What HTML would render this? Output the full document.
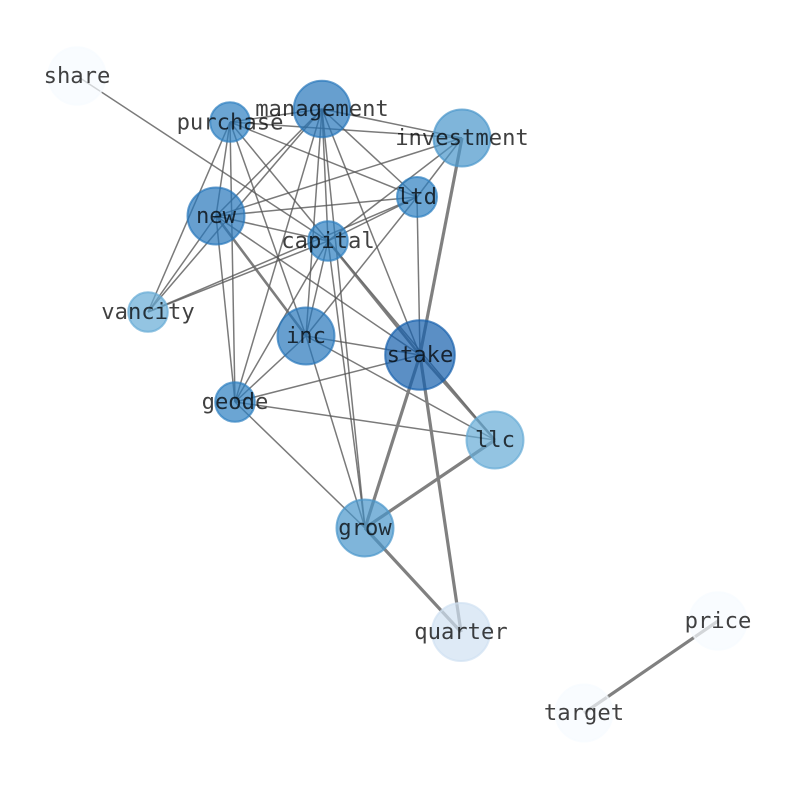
<!DOCTYPE html>
<html>
<head>
<meta charset="utf-8">
<style>
  html,body{margin:0;padding:0;background:#fff;}
  svg{display:block;}
  text{font-family:"DejaVu Sans Mono","Liberation Mono",monospace;font-size:22.2px;fill:#000;fill-opacity:0.75;text-anchor:middle;}
</style>
</head>
<body>
<svg width="794" height="790" viewBox="0 0 794 790" xmlns="http://www.w3.org/2000/svg">
<rect width="794" height="790" fill="#fff"/>
<g stroke="#555" stroke-opacity="0.78" stroke-width="1.5">
  <line x1="77" y1="76" x2="328" y2="241"/>
  <line x1="230" y1="122" x2="322" y2="109"/>
  <line x1="230" y1="122" x2="462" y2="138"/>
  <line x1="230" y1="122" x2="417" y2="197"/>
  <line x1="230" y1="122" x2="216" y2="216"/>
  <line x1="230" y1="122" x2="148" y2="312"/>
  <line x1="230" y1="122" x2="235" y2="402"/>
  <line x1="230" y1="122" x2="306" y2="336"/>
  <line x1="230" y1="122" x2="328" y2="241"/>
  <line x1="322" y1="109" x2="462" y2="138"/>
  <line x1="322" y1="109" x2="417" y2="197"/>
  <line x1="322" y1="109" x2="216" y2="216"/>
  <line x1="322" y1="109" x2="148" y2="312"/>
  <line x1="322" y1="109" x2="328" y2="241"/>
  <line x1="322" y1="109" x2="306" y2="336"/>
  <line x1="322" y1="109" x2="235" y2="402"/>
  <line x1="322" y1="109" x2="420" y2="355"/>
  <line x1="322" y1="109" x2="365" y2="528"/>
  <line x1="462" y1="138" x2="216" y2="216"/>
  <line x1="462" y1="138" x2="417" y2="197"/>
  <line x1="462" y1="138" x2="328" y2="241"/>
  <line x1="417" y1="197" x2="216" y2="216"/>
  <line x1="417" y1="197" x2="328" y2="241"/>
  <line x1="417" y1="197" x2="306" y2="336"/>
  <line x1="417" y1="197" x2="420" y2="355"/>
  <line x1="417" y1="197" x2="148" y2="312"/>
  <line x1="216" y1="216" x2="328" y2="241"/>
  <line x1="216" y1="216" x2="148" y2="312"/>
  <line x1="216" y1="216" x2="235" y2="402"/>
  <line x1="216" y1="216" x2="420" y2="355"/>
  <line x1="328" y1="241" x2="148" y2="312"/>
  <line x1="328" y1="241" x2="306" y2="336"/>
  <line x1="328" y1="241" x2="235" y2="402"/>
  <line x1="328" y1="241" x2="495" y2="440"/>
  <line x1="328" y1="241" x2="365" y2="528"/>
  <line x1="306" y1="336" x2="420" y2="355"/>
  <line x1="306" y1="336" x2="235" y2="402"/>
  <line x1="306" y1="336" x2="495" y2="440"/>
  <line x1="306" y1="336" x2="365" y2="528"/>
  <line x1="235" y1="402" x2="420" y2="355"/>
  <line x1="235" y1="402" x2="495" y2="440"/>
  <line x1="235" y1="402" x2="365" y2="528"/>
</g>
<g stroke="#666" stroke-opacity="0.85" stroke-width="2.6">
  <line x1="216" y1="216" x2="306" y2="336"/>
  <line x1="328" y1="241" x2="420" y2="355"/>
  <line x1="420" y1="355" x2="495" y2="440"/>
</g>
<g stroke="#808080" stroke-width="3.2">
  <line x1="462" y1="138" x2="420" y2="355"/>
  <line x1="420" y1="355" x2="365" y2="528"/>
  <line x1="420" y1="355" x2="461" y2="632"/>
  <line x1="495" y1="440" x2="365" y2="528"/>
  <line x1="365" y1="528" x2="461" y2="632"/>
  <line x1="718" y1="621" x2="584" y2="713"/>
</g>
<g stroke-width="2" fill-opacity="0.7" stroke-opacity="0.7">
  <circle cx="77" cy="76" r="28.7" fill="#f7fbff" stroke="#f7fbff"/>
  <circle cx="230" cy="122" r="19.8" fill="#2c7fc0" stroke="#2c7fc0"/>
  <circle cx="322" cy="109" r="28.2" fill="#2676bb" stroke="#2676bb"/>
  <circle cx="462" cy="138" r="28.5" fill="#4895ca" stroke="#4895ca"/>
  <circle cx="417" cy="197" r="20" fill="#2c7fc0" stroke="#2c7fc0"/>
  <circle cx="216" cy="216" r="28.5" fill="#2676bb" stroke="#2676bb"/>
  <circle cx="328" cy="241" r="19.8" fill="#2c7fc0" stroke="#2c7fc0"/>
  <circle cx="148" cy="312" r="19.8" fill="#65abd6" stroke="#65abd6"/>
  <circle cx="306" cy="336" r="28.5" fill="#2676bb" stroke="#2676bb"/>
  <circle cx="420" cy="355" r="34.8" fill="#155fac" stroke="#155fac"/>
  <circle cx="235" cy="402" r="19.8" fill="#2c7fc0" stroke="#2c7fc0"/>
  <circle cx="495" cy="440" r="28.5" fill="#65abd6" stroke="#65abd6"/>
  <circle cx="365" cy="528" r="28.5" fill="#4895ca" stroke="#4895ca"/>
  <circle cx="461" cy="632" r="29" fill="#d0e1f2" stroke="#d0e1f2"/>
  <circle cx="718" cy="621" r="28.7" fill="#f7fbff" stroke="#f7fbff"/>
  <circle cx="584" cy="713" r="28.5" fill="#f7fbff" stroke="#f7fbff"/>
</g>
<g>
  <text x="77" y="83">share</text>
  <text x="230" y="129.5">purchase</text>
  <text x="322" y="116">management</text>
  <text x="462" y="145">investment</text>
  <text x="417" y="204">ltd</text>
  <text x="216" y="223">new</text>
  <text x="328" y="248">capital</text>
  <text x="148" y="319">vancity</text>
  <text x="306" y="343">inc</text>
  <text x="420" y="362">stake</text>
  <text x="235" y="409">geode</text>
  <text x="495" y="447">llc</text>
  <text x="365" y="535">grow</text>
  <text x="461" y="639">quarter</text>
  <text x="718" y="628">price</text>
  <text x="584" y="720">target</text>
</g>
</svg>
</body>
</html>
